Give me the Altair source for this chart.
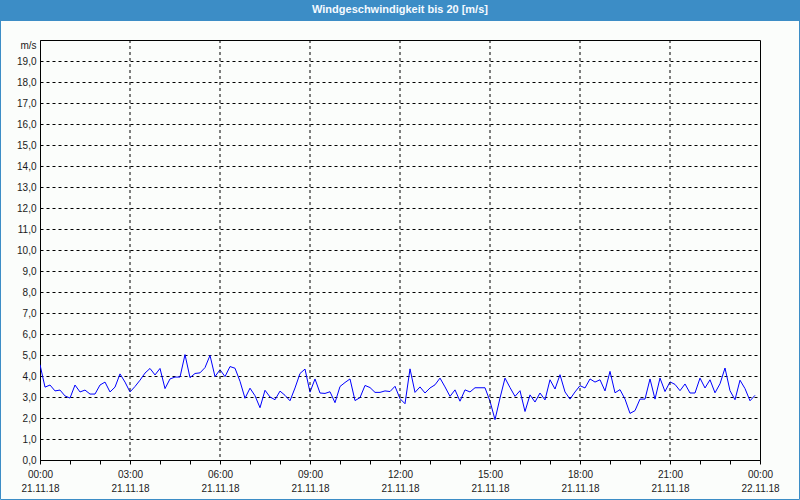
import altair as alt
import pandas as pd

# wind speed (m/s), one reading every 10 minutes from 21.11.18 00:00 to 23:50
wind = [
    4.54, 3.47, 3.57, 3.29, 3.33, 3.05, 2.95, 3.57, 3.24, 3.33,
    3.14, 3.14, 3.57, 3.71, 3.24, 3.47, 4.10, 3.71, 3.24, 3.50,
    3.80, 4.14, 4.36, 4.05, 4.36, 3.40, 3.86, 3.95, 3.95, 5.02,
    3.92, 4.12, 4.15, 4.40, 4.98, 3.97, 4.30, 3.97, 4.45, 4.37,
    3.75, 2.94, 3.42, 3.06, 2.49, 3.32, 3.00, 2.87, 3.28, 3.08,
    2.82, 3.43, 4.12, 4.33, 3.23, 3.86, 3.19, 3.17, 3.25, 2.73,
    3.50, 3.69, 3.86, 2.83, 2.97, 3.55, 3.45, 3.22, 3.22, 3.29,
    3.26, 3.51, 2.92, 2.68, 4.34, 3.22, 3.48, 3.19, 3.43, 3.58,
    3.90, 3.48, 3.03, 3.34, 2.80, 3.34, 3.24, 3.44, 3.44, 3.44,
    2.80, 1.92, 2.95, 3.90, 3.45, 3.03, 3.30, 2.31, 3.10, 2.76,
    3.19, 2.86, 3.82, 3.38, 4.06, 3.24, 2.90, 3.24, 3.54, 3.43,
    3.86, 3.71, 3.82, 3.29, 4.22, 3.20, 3.35, 2.90, 2.22, 2.35,
    2.90, 2.90, 3.86, 2.90, 3.90, 3.26, 3.72, 3.60, 3.30, 3.62,
    3.19, 3.19, 3.90, 3.43, 3.82, 3.20, 3.63, 4.38, 3.30, 2.87,
    3.80, 3.40, 2.82, 3.08,
]
hours = [i * 10 / 60 for i in range(len(wind))]

tick_hours = list(range(25))
label_times = ["00:00", "03:00", "06:00", "09:00", "12:00", "15:00", "18:00", "21:00", "00:00"]
label_dates = ["21.11.18"] * 8 + ["22.11.18"]
grid_hours = [3, 6, 9, 12, 15, 18, 21]
y_ticks = list(range(20))

title_text = "Windgeschwindigkeit bis 20 [m/s]"
unit_text = "m/s"

BLUE = "#3c8dc6"
FONT = "Liberation Sans"

df = pd.DataFrame({"h": hours, "v": wind})
grid_df = pd.DataFrame({"h": grid_hours})

pairs = ",".join(f"['{t}','{d}']" for t, d in zip(label_times, label_dates))
x_label_expr = f"datum.value % 3 == 0 ? [{pairs}][datum.value / 3] : ''"

x_scale = alt.Scale(domain=[0, 24], nice=False, zero=False)
y_scale = alt.Scale(domain=[0, 20], nice=False)

x_axis = alt.Axis(
    values=tick_hours,
    labelExpr=x_label_expr,
    labelOverlap=False,
    labelFlush=False,
    labelBound=False,
    grid=False,
    tickSize=4,
    tickColor="black",
    domainColor="black",
    labelPadding=5,
    labelLineHeight=14,
    labelBaseline="top",
    labelFont=FONT,
    labelFontSize=10,
    labelColor="#1a1a1a",
    title=None,
)

line = alt.Chart(df).mark_line(color="#0000ff", strokeWidth=1, clip=True).encode(
    x=alt.X("h:Q", scale=x_scale, axis=x_axis),
    y=alt.Y(
        "v:Q",
        scale=y_scale,
        axis=alt.Axis(
            values=y_ticks,
            labelExpr="replace(format(datum.value, '.1f'), '.', ',')",
            labelOverlap=False,
            ticks=False,
            labelPadding=4,
            grid=True,
            gridColor="black",
            gridDash=[3, 3],
            gridOpacity=1,
            gridWidth=1,
            domainColor="black",
            labelFont=FONT,
            labelFontSize=10,
            labelColor="#1a1a1a",
            title=unit_text,
            titleAngle=0,
            titleX=-4,
            titleY=5,
            titleAlign="right",
            titleBaseline="middle",
            titleFont=FONT,
            titleFontSize=10,
            titleFontWeight="normal",
            titleColor="#1a1a1a",
        ),
    ),
)

vgrid = alt.Chart(grid_df).mark_rule(color="black", strokeDash=[3, 3], strokeWidth=1).encode(
    x=alt.X("h:Q", scale=x_scale, axis=x_axis)
)

bar = alt.Chart(pd.DataFrame({"t": [title_text]})).mark_rect(color=BLUE).encode(
    x=alt.value(-40), x2=alt.value(760), y=alt.value(-40), y2=alt.value(-19)
)
frame = alt.Chart(pd.DataFrame({"t": [title_text]})).mark_rect(
    fill=None, stroke=BLUE, strokeWidth=1
).encode(x=alt.value(-39.5), x2=alt.value(759.5), y=alt.value(-40), y2=alt.value(459.5))
title = alt.Chart(pd.DataFrame({"t": [title_text]})).mark_text(
    color="#f4faff", font=FONT, fontSize=11, fontWeight="bold", align="center", baseline="middle"
).encode(x=alt.value(360), y=alt.value(-30), text="t:N")

chart = (
    alt.layer(line, vgrid, frame, bar, title)
    .properties(
        width=720,
        height=420,
        autosize=alt.AutoSizeParams(type="none"),
        padding={"left": 40, "top": 40, "right": 40, "bottom": 40},
        background="#fbfdfb",
    )
    .configure_view(stroke="black", strokeWidth=1)
)

chart.save("out.html", embed_options={"renderer": "svg", "actions": False})
